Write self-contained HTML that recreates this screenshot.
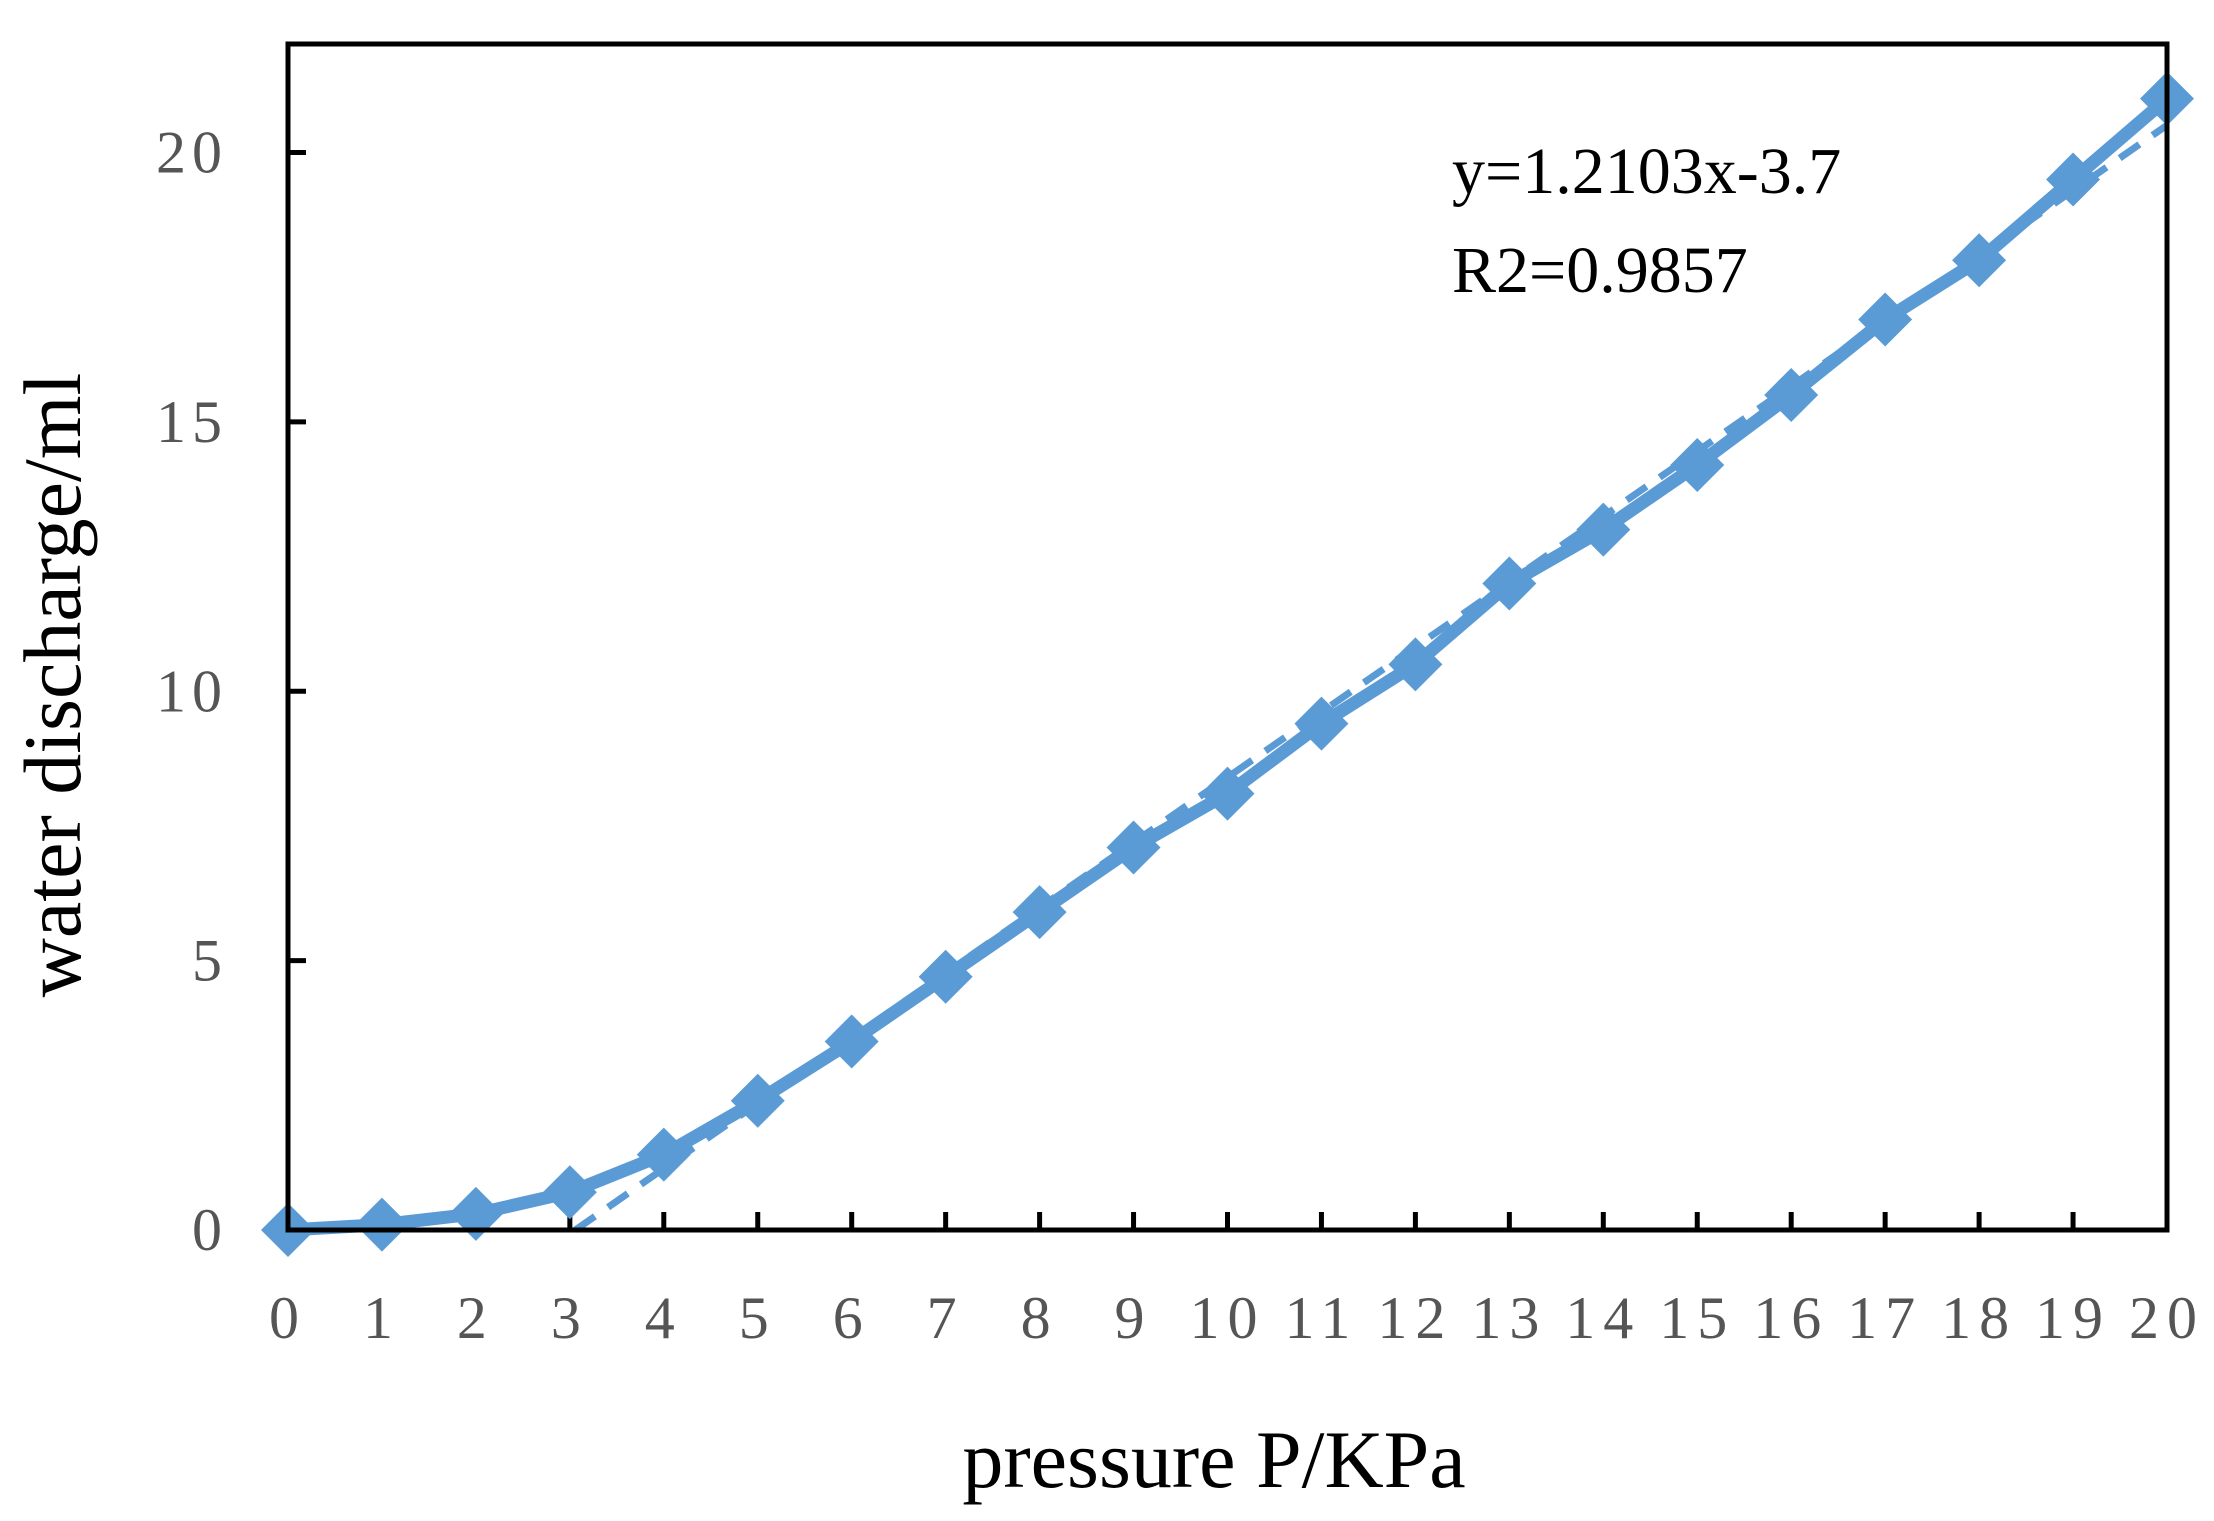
<!DOCTYPE html>
<html><head><meta charset="utf-8"><style>
html,body{margin:0;padding:0;background:#fff;}
svg{display:block;}
text{font-family:"Liberation Serif",serif;}
</style></head><body>
<svg id="chart" width="2214" height="1521">
<rect x="0" y="0" width="2214" height="1521" fill="#fff"/>
<g id="ticks"></g>
<g id="series"></g>
<rect x="288" y="44" width="1879" height="1186" fill="none" stroke="#000" stroke-width="5"/>
<text x="1452" y="193" font-size="66" fill="#000">y=1.2103x-3.7</text>
<text x="1452" y="292" font-size="66" fill="#000">R2=0.9857</text>
<text x="1214" y="1487" font-size="82" text-anchor="middle" fill="#000">pressure P/KPa</text>
<text transform="translate(80,685) rotate(-90)" font-size="82" text-anchor="middle" fill="#000">water discharge/ml</text>
</svg>
<script>
const xCats = [0,1,2,3,4,5,6,7,8,9,10,11,12,13,14,15,16,17,18,19,20];
const discharge = [0,0.1,0.3,0.7,1.4,2.4,3.5,4.7,5.9,7.1,8.1,9.4,10.5,12.0,13.0,14.2,15.5,16.9,18.0,19.5,21.0];
const yTicks = [0,5,10,15,20];
const trendSlope = 1.2103;
const trendIntercept = -3.7;
const NS = "http://www.w3.org/2000/svg";
const X0=288, X1=2167, Y0=1230, Y20=152.5;
function sx(v){return X0+(v-0)/(20-0)*(X1-X0);}
function sy(v){return Y0-(v/20)*(Y0-Y20);}
function mk(tag,attrs,parent){const e=document.createElementNS(NS,tag);for(const k in attrs)e.setAttribute(k,attrs[k]);parent.appendChild(e);return e;}
const tg=document.getElementById('ticks');
yTicks.forEach(v=>{
  const l=mk('line',{x1:X0,x2:X0+18,y1:sy(v),y2:sy(v),stroke:'#000','stroke-width':5},tg);
  
  
  const t=mk('text',{x:228,y:sy(v)+20,'font-size':60,'text-anchor':'end',fill:'#555','letter-spacing':'6'},tg);
  t.textContent=v;
  
  
});
xCats.forEach(v=>{
  const l=mk('line',{x1:sx(v),x2:sx(v),y1:Y0,y2:Y0-18,stroke:'#000','stroke-width':5},tg);
  
  
  const t=mk('text',{x:sx(v),y:1338,'font-size':60,'text-anchor':'middle',fill:'#555','letter-spacing':'8'},tg);
  t.textContent=v;
  
  
});
const sg=document.getElementById('series');
const xs=-trendIntercept/trendSlope, xe=20;
const tl=mk('line',{x1:sx(xs),y1:sy(trendSlope*xs+trendIntercept),x2:sx(xe),y2:sy(trendSlope*xe+trendIntercept),stroke:'#5B9BD5','stroke-width':7,'stroke-dasharray':'24 16'},sg);


const pts=xCats.map((x,i)=>sx(x)+','+sy(discharge[i])).join(' ');
const pl=mk('polyline',{points:pts,fill:'none',stroke:'#5B9BD5','stroke-width':13,'stroke-linejoin':'round'},sg);


xCats.forEach((x,i)=>{
  const cx=sx(x), cy=sy(discharge[i]), r=27;
  const d=mk('polygon',{points:`${cx},${cy-r} ${cx+r},${cy} ${cx},${cy+r} ${cx-r},${cy}`,fill:'#5B9BD5'},sg);
  
  
});
</script>
</body></html>
